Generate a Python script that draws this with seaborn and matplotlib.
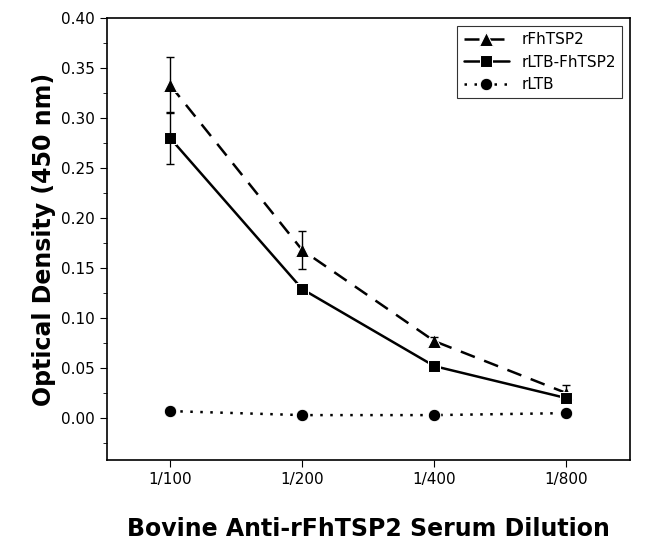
import matplotlib
matplotlib.use("Agg")
import matplotlib.pyplot as plt
import seaborn as sns
import pandas as pd
from matplotlib.ticker import MultipleLocator

sns.set_style("ticks")
plt.rcParams['font.family'] = ['DejaVu Sans']
plt.rcParams.update({"text.color": "black", "axes.labelcolor": "black",
                     "xtick.color": "black", "ytick.color": "black",
                     "axes.edgecolor": "black"})

dilutions = ["1/100", "1/200", "1/400", "1/800"]
tsp2 = [0.333, 0.168, 0.077, 0.025]
tsp2_err = [0.028, 0.019, 0.004, 0.008]
ltb_tsp2 = [0.280, 0.129, 0.052, 0.020]
ltb_tsp2_err = [0.026, 0.003, 0.003, 0.004]
ltb = [0.007, 0.003, 0.003, 0.005]
ltb_err = [0.001, 0.001, 0.001, 0.001]

fig = plt.figure(figsize=(6.52, 5.4), dpi=100)
ax = fig.add_axes([0.164, 0.148, 0.802, 0.818])

series = [("rFhTSP2", tsp2, tsp2_err, "^", (6, 4), 10),
          ("rLTB-FhTSP2", ltb_tsp2, ltb_tsp2_err, "s", None, 8),
          ("rLTB", ltb, ltb_err, "o", (1, 3), 9)]
x = list(range(len(dilutions)))
for name, vals, err, m, dash, ms in series:
    df = pd.DataFrame({"x": x, "y": vals})
    sns.lineplot(data=df, x="x", y="y", ax=ax, color="black", marker=m,
                 markersize=ms, linewidth=1.8, label=name)
    line = ax.lines[-1]
    if dash:
        line.set_dashes(dash)
    ax.errorbar(x, vals, yerr=err, fmt="none", ecolor="black", capsize=3, elinewidth=1)

ax.set_xlim(-0.48, 3.48)
ax.set_ylim(-0.042, 0.40)
ax.set_xticks(x)
ax.set_xticklabels(dilutions, fontsize=11)
ax.yaxis.set_minor_locator(MultipleLocator(0.025))
ax.set_yticks([i * 0.05 for i in range(9)])
ax.set_yticklabels([f"{i*0.05:.2f}" for i in range(9)], fontsize=11)
ax.tick_params(direction="out", length=5)
ax.tick_params(which="minor", length=3)
for s in ax.spines.values():
    s.set_linewidth(1.2)
ax.set_xlabel("Bovine Anti-rFhTSP2 Serum Dilution", fontsize=17, fontweight="bold", labelpad=22)
ax.set_ylabel("Optical Density (450 nm)", fontsize=17, fontweight="bold")
leg = ax.legend(loc="upper right", fontsize=11, frameon=True, fancybox=False,
                edgecolor="black", handlelength=3)
leg.get_frame().set_linewidth(0.8)
fig.savefig("out.png", dpi=100)
